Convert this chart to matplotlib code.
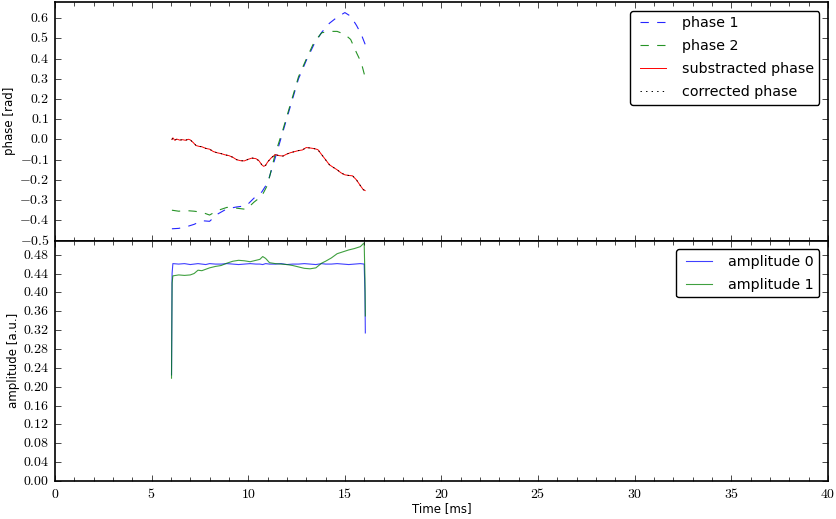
import matplotlib
matplotlib.use("Agg")
import matplotlib.pyplot as plt
from matplotlib.ticker import MultipleLocator, FuncFormatter

# === Data ===
t_phase = [6.05, 6.4, 6.8, 7.2, 7.6, 8.0, 8.4, 8.9, 9.4, 9.9, 10.3, 10.7, 11.0,
           11.4, 11.8, 12.2, 12.6, 13.0, 13.4, 13.8, 14.2, 14.6, 15.0, 15.3,
           15.6, 15.85, 16.05]
phase1 = [-0.442, -0.44, -0.432, -0.42, -0.402, -0.405, -0.37, -0.343, -0.334,
          -0.328, -0.29, -0.26, -0.215, -0.09, 0.04, 0.17, 0.3, 0.39, 0.47,
          0.53, 0.575, 0.605, 0.628, 0.61, 0.565, 0.52, 0.471]
phase2 = [-0.35, -0.355, -0.352, -0.355, -0.36, -0.374, -0.352, -0.336, -0.34,
          -0.346, -0.31, -0.28, -0.225, -0.07, 0.05, 0.18, 0.31, 0.397, 0.48,
          0.528, 0.535, 0.535, 0.52, 0.495, 0.43, 0.38, 0.307]

t_sub = [6.05, 6.1, 6.2, 6.3, 6.45, 6.6, 6.75, 6.9, 7.0, 7.15, 7.3, 7.45, 7.6,
         7.8, 8.0, 8.2, 8.4, 8.6, 8.8, 9.0, 9.2, 9.4, 9.6, 9.8, 10.0, 10.2,
         10.4, 10.55, 10.7, 10.8, 10.9, 11.0, 11.2, 11.4, 11.6, 11.8, 12.0,
         12.2, 12.4, 12.6, 12.8, 13.0, 13.2, 13.4, 13.6, 13.8, 14.0, 14.2,
         14.4, 14.6, 14.8, 15.0, 15.2, 15.4, 15.6, 15.8, 15.95, 16.05]
sub_phase = [0.0, 0.008, -0.004, 0.002, -0.003, -0.001, -0.004, 0.001, -0.002,
             -0.015, -0.03, -0.034, -0.036, -0.044, -0.048, -0.06, -0.066,
             -0.07, -0.076, -0.08, -0.088, -0.1, -0.105, -0.106, -0.098,
             -0.092, -0.095, -0.105, -0.125, -0.133, -0.128, -0.112, -0.09,
             -0.075, -0.08, -0.082, -0.072, -0.065, -0.06, -0.055, -0.052,
             -0.04, -0.042, -0.045, -0.05, -0.075, -0.1, -0.125, -0.138,
             -0.15, -0.165, -0.175, -0.178, -0.18, -0.2, -0.228, -0.248,
             -0.253]
corr_phase = sub_phase

t_amp = [6.03, 6.06, 6.1, 6.4, 6.7, 7.0, 7.2, 7.4, 7.6, 7.8, 8.0, 8.3, 8.6,
         8.9, 9.2, 9.5, 9.8, 10.1, 10.4, 10.6, 10.75, 10.9, 11.1, 11.4, 11.7,
         12.0, 12.3, 12.6, 12.9, 13.2, 13.5, 13.8, 14.0, 14.3, 14.6, 14.9,
         15.2, 15.5, 15.8, 16.0, 16.04, 16.06]
amp0 = [0.225, 0.44, 0.461, 0.46, 0.461, 0.459, 0.46, 0.461, 0.46, 0.459,
        0.461, 0.46, 0.46, 0.461, 0.46, 0.459, 0.46, 0.461, 0.46, 0.46, 0.459,
        0.461, 0.46, 0.46, 0.461, 0.459, 0.46, 0.46, 0.461, 0.46, 0.459,
        0.461, 0.46, 0.46, 0.461, 0.46, 0.459, 0.46, 0.461, 0.46, 0.4, 0.314]
amp1 = [0.218, 0.42, 0.435, 0.437, 0.436, 0.437, 0.44, 0.447, 0.446, 0.449,
        0.452, 0.455, 0.457, 0.462, 0.466, 0.468, 0.467, 0.465, 0.468, 0.47,
        0.476, 0.472, 0.463, 0.461, 0.46, 0.459, 0.457, 0.454, 0.451, 0.45,
        0.452, 0.462, 0.466, 0.473, 0.482, 0.486, 0.49, 0.493, 0.497, 0.505,
        0.43, 0.35]

plt.style.use("classic")
plt.rcParams["mathtext.fontset"] = "cm"
plt.rcParams["font.family"] = ["DejaVu Sans"]
plt.rcParams["lines.dashed_pattern"] = [6, 6]

fig = plt.figure(figsize=(8.37, 5.19), dpi=100, facecolor="white")
ax1 = fig.add_axes([0.0657, 0.5366, 0.9235, 0.4594])
ax2 = fig.add_axes([0.0657, 0.0732, 0.9235, 0.4634], sharex=ax1)

ax1.plot(t_phase, phase1, "b--", lw=0.8, alpha=0.85, label="phase 1")
ax1.plot(t_phase, phase2, "g--", lw=0.8, alpha=0.85, label="phase 2")
ax1.plot(t_sub, sub_phase, "r-", lw=0.7, label="substracted phase")
ax1.plot(t_sub, corr_phase, "k:", lw=0.7, label="corrected phase")
ax1.set_ylim(-0.5, 0.68)
ax1.set_ylabel("phase [rad]", fontsize=8.5, labelpad=2)
ax1.yaxis.set_major_locator(MultipleLocator(0.1))
ax1.yaxis.set_major_formatter(FuncFormatter(lambda v, p: "$%.1f$" % v))
ax1.legend(loc="upper right", fontsize=10.3, fancybox=True, handlelength=2.4,
           labelspacing=0.62, borderaxespad=0.6)
plt.setp(ax1.get_xticklabels(), visible=False)

ax2.plot(t_amp, amp0, "b-", lw=0.8, alpha=0.75, label="amplitude 0")
ax2.plot(t_amp, amp1, "g-", lw=0.8, alpha=0.75, label="amplitude 1")
ax2.set_ylim(0, 0.51)
ax2.set_xlim(0, 40)
ax2.set_ylabel("amplitude [a.u.]", fontsize=8.5, labelpad=2)
ax2.set_xlabel("Time [ms]", fontsize=8.5, labelpad=1)
ax2.yaxis.set_major_locator(MultipleLocator(0.04))
ax2.yaxis.set_major_formatter(FuncFormatter(lambda v, p: "$%.2f$" % v))
ax2.xaxis.set_major_locator(MultipleLocator(5))
ax2.xaxis.set_minor_locator(MultipleLocator(1))
ax2.xaxis.set_major_formatter(FuncFormatter(lambda v, p: "$%d$" % v))
ax2.legend(loc="upper right", fontsize=10.3, fancybox=True, handlelength=2.4,
           labelspacing=0.62, borderaxespad=0.6)

for ax in (ax1, ax2):
    ax.tick_params(labelsize=10)
    ax.tick_params(which="major", length=4)
    ax.tick_params(which="minor", length=3)
    for s in ax.spines.values():
        s.set_linewidth(1.2)

fig.savefig("out.png", dpi=100, facecolor="white")
